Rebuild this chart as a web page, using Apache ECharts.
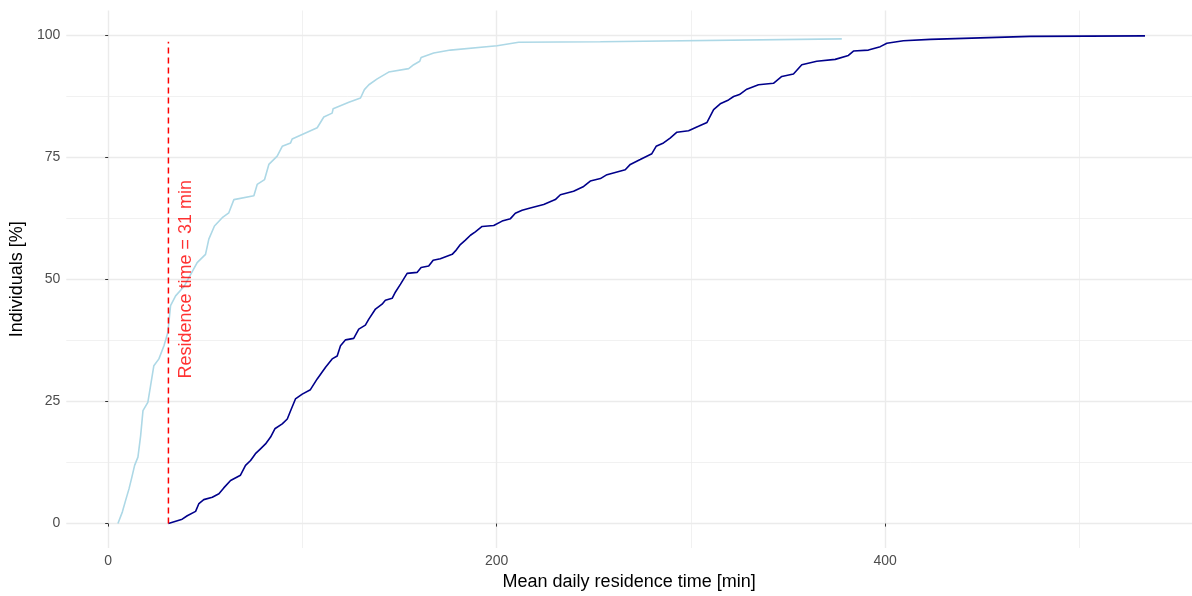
<!DOCTYPE html>
<html>
<head>
<meta charset="utf-8">
<script src="https://cdn.jsdelivr.net/npm/echarts@6/dist/echarts.min.js"></script>
<style>
  html, body { margin: 0; padding: 0; background: #ffffff; }
  #chart { width: 1192px; height: 596px; }
</style>
</head>
<body>
<div id="chart"></div>
<script>
// Cumulative share of individuals by mean daily residence time (light group)
const lightTime = [5, 7.3, 9.0, 10.7, 12.0, 13.6, 15.3, 16.7, 17.9, 20.4, 21.8, 23.5, 26.1, 28.7, 30.7,
  32.1, 34.7, 39.0, 45.8, 50.1, 51.8, 54.7, 58.7, 62.1, 64.7, 75.0, 76.7, 80.5, 82.7, 87.0,
  89.6, 93.9, 94.7, 107.6, 111.0, 115.3, 115.8, 123.9, 129.9, 131.9, 134.2, 138.5, 144.4, 154.7, 157.3,
  160.4, 161.1, 167.6, 176.2, 200.2, 211.3, 253.4, 377.7];
const lightPct = [0, 2.4, 4.8, 7.1, 9.2, 11.9, 13.6, 18.0, 23.1, 24.8, 28.2, 32.3, 33.7, 36.4, 39.1,
  44.6, 46.6, 48.5, 53.4, 55.1, 58.2, 60.9, 62.6, 63.6, 66.3, 67.1, 69.4, 70.4, 73.5, 75.2,
  77.2, 77.9, 78.7, 81.0, 83.2, 84.0, 84.9, 86.2, 87.1, 88.8, 89.8, 91.0, 92.4, 93.1, 93.9,
  94.6, 95.4, 96.3, 96.9, 97.8, 98.5, 98.6, 99.2];

// Cumulative share of individuals by mean daily residence time (dark group)
const darkTime = [31, 38.1, 40.7, 45.0, 46.7, 49.2, 53.6, 57.0, 59.5, 63.0, 68.1, 70.7, 73.3, 75.8, 78.4,
  81.0, 83.6, 85.8, 89.6, 92.2, 93.9, 96.4, 99.9, 104.1, 107.6, 111.9, 115.3, 117.9, 119.6, 122.2,
  126.4, 129.0, 132.4, 134.1, 137.6, 141.0, 142.7, 146.2, 147.9, 150.5, 153.9, 159.0, 161.1, 165.0, 167.3,
  171.0, 177.1, 178.8, 181.3, 183.9, 186.5, 189.0, 192.5, 198.5, 202.8, 207.1, 209.6, 213.1, 217.3, 224.2,
  230.2, 232.8, 239.6, 244.8, 248.2, 253.4, 256.8, 266.2, 268.8, 273.9, 279.9, 282.1, 285.9, 289.3, 292.8,
  298.8, 303.9, 308.3, 311.7, 315.1, 319.4, 322.0, 325.0, 328.8, 334.8, 342.5, 346.8, 352.8, 357.1, 364.8,
  374.3, 381.1, 383.7, 391.4, 397.5, 400.9, 409.4, 423.2, 448.9, 474.6, 533.8];
const darkPct = [0, 0.9, 1.6, 2.5, 4.1, 4.9, 5.4, 6.1, 7.3, 8.8, 9.9, 11.9, 12.9, 14.3, 15.3,
  16.3, 17.7, 19.4, 20.4, 21.4, 23.1, 25.5, 26.5, 27.4, 29.6, 32.0, 33.7, 34.3, 36.4, 37.6,
  37.9, 39.8, 40.6, 41.8, 43.9, 44.9, 45.7, 46.1, 47.4, 49.0, 51.2, 51.4, 52.4, 52.7, 53.9,
  54.2, 55.1, 55.8, 57.1, 58.0, 59.0, 59.7, 60.8, 61.0, 61.9, 62.4, 63.5, 64.1, 64.6, 65.3,
  66.3, 67.3, 68.0, 69.0, 70.1, 70.6, 71.4, 72.4, 73.5, 74.5, 75.7, 77.2, 77.9, 78.9, 80.1,
  80.4, 81.3, 82.1, 84.7, 85.9, 86.7, 87.4, 87.8, 88.9, 89.8, 90.1, 91.5, 92.0, 93.9, 94.6,
  95.0, 95.8, 96.7, 96.9, 97.6, 98.3, 98.8, 99.1, 99.4, 99.7, 99.8];

// Reference residence time marker and its annotation
const residenceTime = 31;
const markerTop = 98.6;
const labelAt = [40, 50];

// Tick and grid positions
const xMajorTicks = [0, 200, 400];
const xMinorTicks = [100, 300, 500];
const yMajorTicks = [0, 25, 50, 75, 100];
const yMinorTicks = [12.5, 37.5, 62.5, 87.5];

const X_MIN = -21.6, X_MAX = 558;
const Y_MIN = -5, Y_MAX = 105;
const FONT = '"Liberation Sans", Arial, Helvetica, sans-serif';
const GRID_COLOR = '#ebebeb';

const zip = (xs, ys) => xs.map((x, i) => [x, ys[i]]);

function majorAxis(ticks, extra) {
  return Object.assign({
    type: 'value',
    axisLine: { show: false },
    axisTick: { show: true, customValues: ticks, length: 3, lineStyle: { color: '#333333', width: 1 } },
    axisLabel: { show: true, customValues: ticks, color: '#4d4d4d', fontSize: 14, fontFamily: FONT },
    splitLine: { show: true, lineStyle: { color: GRID_COLOR, width: 1.4 } }
  }, extra);
}

function minorAxis(ticks, extra) {
  return Object.assign({
    type: 'value',
    axisLine: { show: false },
    axisTick: { show: false, customValues: ticks },
    axisLabel: { show: false, customValues: ticks },
    splitLine: { show: true, lineStyle: { color: GRID_COLOR, width: 0.7 } }
  }, extra);
}

const chart = echarts.init(document.getElementById('chart'), null, { renderer: 'canvas' });

chart.setOption({
  animation: false,
  backgroundColor: '#ffffff',
  grid: { left: 65.6, right: 0, top: 10.5, bottom: 46.5, containLabel: false },
  xAxis: [
    majorAxis(xMajorTicks, {
      min: X_MIN, max: X_MAX, position: 'bottom',
      axisLabel: { show: true, customValues: xMajorTicks, color: '#4d4d4d', fontSize: 14, fontFamily: FONT, margin: 6 },
      name: 'Mean daily residence time [min]',
      nameLocation: 'middle',
      nameGap: 25,
      nameTextStyle: { color: '#000000', fontSize: 18, fontFamily: FONT }
    }),
    minorAxis(xMinorTicks, { min: X_MIN, max: X_MAX, position: 'bottom' })
  ],
  yAxis: [
    majorAxis(yMajorTicks, {
      min: Y_MIN, max: Y_MAX, position: 'left',
      axisLabel: { show: true, customValues: yMajorTicks, color: '#4d4d4d', fontSize: 14, fontFamily: FONT, margin: 6 },
      name: 'Individuals [%]',
      nameLocation: 'middle',
      nameGap: 38,
      nameTextStyle: { color: '#000000', fontSize: 18, fontFamily: FONT }
    }),
    minorAxis(yMinorTicks, { min: Y_MIN, max: Y_MAX, position: 'left' })
  ],
  series: [
    {
      name: 'light',
      type: 'line',
      xAxisIndex: 0, yAxisIndex: 0,
      data: zip(lightTime, lightPct),
      showSymbol: false,
      silent: true,
      lineStyle: { color: '#add8e6', width: 1.6 },
      z: 3
    },
    {
      name: 'dark',
      type: 'line',
      xAxisIndex: 0, yAxisIndex: 0,
      data: zip(darkTime, darkPct),
      showSymbol: false,
      silent: true,
      lineStyle: { color: '#00008b', width: 1.6 },
      z: 3
    },
    {
      name: 'marker',
      type: 'line',
      xAxisIndex: 0, yAxisIndex: 0,
      data: [[residenceTime, 0], [residenceTime, markerTop]],
      showSymbol: false,
      silent: true,
      lineStyle: { color: '#ff0000', width: 1.5, type: [6, 4] },
      z: 4
    },
    {
      name: 'annotation',
      type: 'scatter',
      xAxisIndex: 0, yAxisIndex: 0,
      data: [labelAt],
      symbolSize: 0,
      silent: true,
      label: {
        show: true,
        position: 'inside',
        rotate: 90,
        formatter: 'Residence time = ' + residenceTime + ' min',
        color: '#ff0000',
        fontSize: 18,
        fontFamily: FONT
      },
      z: 5
    }
  ]
});
</script>
</body>
</html>
